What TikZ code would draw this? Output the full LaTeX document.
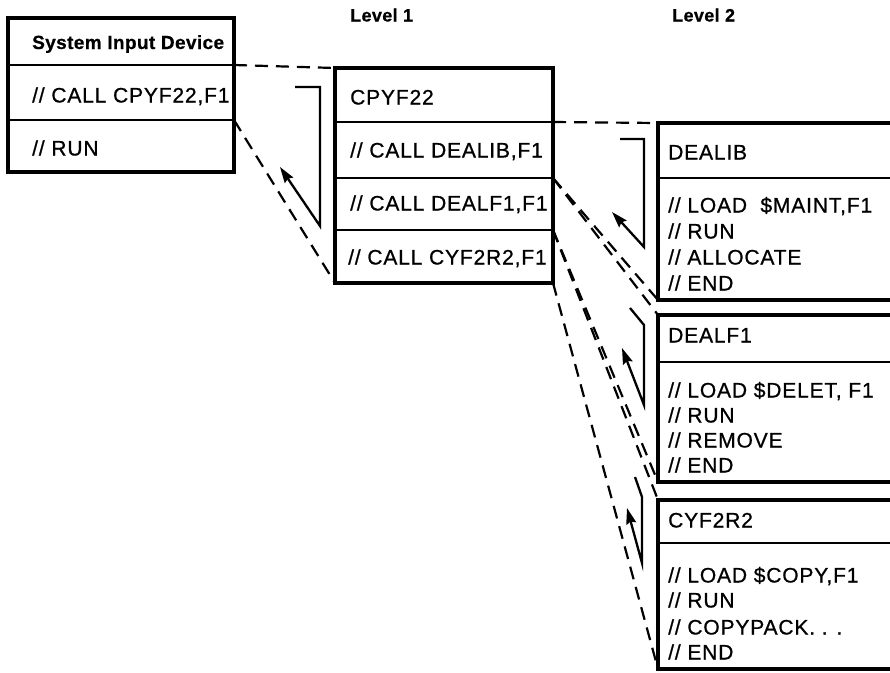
\documentclass[tikz,border=0pt]{standalone}
\usepackage{fontspec}
\setmainfont{Liberation Sans}[LetterSpace=4,FakeBold=0.8]
\newfontfamily\boldfam{Liberation Sans Bold}[LetterSpace=2,FakeBold=0.6]
\usetikzlibrary{arrows.meta}
\begin{document}
\begin{tikzpicture}[x=1pt,y=-1pt,
  boxline/.style={line width=3.4pt,line cap=rect,line join=miter},
  divline/.style={line width=2.6pt},
  dashline/.style={line width=2.2pt,dash pattern=on 13pt off 8pt},
  retarrow/.style={line width=2.3pt,line join=miter,-{Stealth[length=16pt,width=10pt,inset=2pt]}},
  txt/.style={anchor=west,inner sep=0pt,font=\fontsize{21}{24}\selectfont,text height=15pt,text depth=0pt},
  ttl/.style={anchor=west,inner sep=0pt,font=\fontsize{19}{22}\boldfam,text height=14pt,text depth=0pt},
  lvl/.style={anchor=west,inner sep=0pt,font=\fontsize{18}{21}\boldfam,text height=13pt,text depth=0pt}]
\useasboundingbox (0,0) rectangle (890,672);
\fill[white] (0,0) rectangle (890,672);

% labels
\node[lvl] (lv1) at (350,15) {Level 1};
\node[lvl] (lv2) at (672,15) {Level 2};

% Box 1
\coordinate (b1tl) at (8,18);
\coordinate (b1br) at (234,172);
\coordinate (b1d1) at (234,65);
\coordinate (b1d2) at (234,120);
\draw[boxline] (b1tl) rectangle (b1br);
\draw[divline] (8,65) -- (b1d1);
\draw[divline] (8,120) -- (b1d2);
\node[ttl] (sid) at (32,42) {System Input Device};
\node[txt] (c1) at (32,95) {// CALL CPYF22,F1};
\node[txt] (r1) at (32,148) {// RUN};

% Box 2
\coordinate (b2tl) at (335,68);
\coordinate (b2bl) at (335,283);
\coordinate (b2br) at (553,283);
\coordinate (b2d1) at (553,122);
\coordinate (b2d2) at (553,178);
\coordinate (b2d3) at (553,230);
\draw[boxline] (b2tl) rectangle (b2br);
\draw[divline] (335,122) -- (b2d1);
\draw[divline] (335,178) -- (b2d2);
\draw[divline] (335,230) -- (b2d3);
\node[txt] (cp) at (350,97) {CPYF22};
\node[txt] (c2a) at (350,150) {// CALL DEALIB,F1};
\node[txt] (c2b) at (350,203) {// CALL DEALF1,F1};
\node[txt] (c2c) at (348,257) {// CALL CYF2R2,F1};

% Level 2 boxes
\coordinate (d1t) at (658,123);
\coordinate (d1b) at (658,300);
\draw[boxline] (895,123) -- (d1t) -- (d1b) -- (895,300);
\draw[divline] (658,178) -- (895,178);
\node[txt] (dl) at (668,152) {DEALIB};
\node[txt] (dl1) at (668,205) {// LOAD\ \ \$MAINT,F1};
\node[txt] (dl2) at (668,231) {// RUN};
\node[txt] (dl3) at (668,257) {// ALLOCATE};
\node[txt] (dl4) at (668,283) {// END};

\coordinate (d2t) at (658,315);
\coordinate (d2b) at (658,482);
\draw[boxline] (895,315) -- (d2t) -- (d2b) -- (895,482);
\draw[divline] (658,362) -- (895,362);
\node[txt] (df) at (668,335) {DEALF1};
\node[txt] (df1) at (668,390) {// LOAD \$DELET, F1};
\node[txt] (df2) at (668,415) {// RUN};
\node[txt] (df3) at (668,440) {// REMOVE};
\node[txt] (df4) at (668,465) {// END};

\coordinate (d3t) at (658,500);
\coordinate (d3b) at (658,669);
\draw[boxline] (895,500) -- (d3t) -- (d3b) -- (895,669);
\draw[divline] (658,543) -- (895,543);
\node[txt] (cy) at (668,520) {CYF2R2};
\node[txt] (cy1) at (668,575) {// LOAD \$COPY,F1};
\node[txt] (cy2) at (668,600) {// RUN};
\node[txt] (cy3) at (668,627) {// COPYPACK. . .};
\node[txt] (cy4) at (668,652) {// END};

% dashed expansion lines
\draw[dashline] (b1d1) -- (b2tl);
\draw[dashline] (b1d2) -- (b2bl);
\draw[dashline] (b2d1) -- (d1t);
\draw[dashline] (b2d2) -- (d1b);
\draw[dashline] (b2d2) -- (d2t);
\draw[dashline] (b2d3) -- (d2b);
\draw[dashline] (b2d3) -- (d3t);
\draw[dashline] (b2br) -- (d3b);

% return arrows
\coordinate (a1s) at (295,87);
\coordinate (a1e) at (280,167);
\draw[retarrow] (a1s) -- (320,87) -- (320,226) -- (a1e);
\coordinate (a2s) at (620,139);
\coordinate (a2e) at (612,212);
\draw[retarrow] (a2s) -- (644,139) -- (644,247) -- (a2e);
\coordinate (a3s) at (630,308);
\coordinate (a3e) at (622,348);
\draw[retarrow] (a3s) -- (644,325) -- (644,405) -- (a3e);
\coordinate (a4s) at (635,477);
\coordinate (a4e) at (627,508);
\draw[retarrow] (a4s) -- (642,497) -- (642,563) -- (a4e);
\end{tikzpicture}
\end{document}
